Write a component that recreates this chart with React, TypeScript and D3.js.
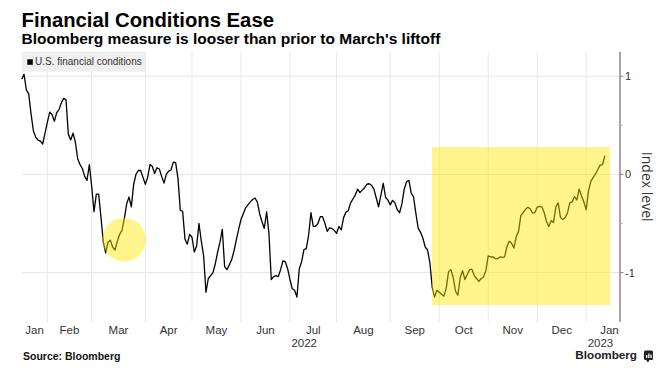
import React from "react";
import * as d3 from "d3";

// ---------- data ----------
const TITLE = "Financial Conditions Ease";
const SUBTITLE = "Bloomberg measure is looser than prior to March's liftoff";
const SERIES_NAME = "U.S. financial conditions";
const SOURCE = "Source: Bloomberg";
const Y_LABEL = "Index level";
const LOGO = "Bloomberg";

// first trading day in the series, and US market holidays (trading-day axis)
const START_DATE = "2022-01-14";
const CALENDAR_END = "2023-02-01";
const HOLIDAYS = [
  "2022-01-17", "2022-02-21", "2022-04-15", "2022-05-30", "2022-06-20",
  "2022-07-04", "2022-09-05", "2022-11-24", "2022-12-26", "2023-01-02", "2023-01-16",
];

// Bloomberg U.S. financial conditions index, one value per trading day
const VALUES = [
  0.97, 1.02, 0.86, 0.82, 0.62, 0.445, 0.38, 0.35, 0.34, 0.31,
  0.42, 0.53, 0.634, 0.61, 0.54, 0.63, 0.66, 0.73, 0.775, 0.76,
  0.41, 0.35, 0.42, 0.33, 0.16, 0.10, 0.06, -0.02, -0.06, 0.10,
  -0.12, -0.38, -0.20, -0.20, -0.44, -0.69, -0.80, -0.69, -0.67, -0.74,
  -0.77, -0.68, -0.61, -0.57, -0.45, -0.30, -0.23, -0.33, -0.10, 0.00,
  0.04, 0.04, -0.03, -0.10, -0.03, 0.10, 0.08, 0.01, 0.068, 0.055,
  -0.02, -0.088, 0.00, 0.034, 0.045, 0.125, 0.12, -0.04, -0.366, -0.375,
  -0.66, -0.71, -0.61, -0.64, -0.79, -0.73, -0.50, -0.68, -0.83, -1.20,
  -1.06, -1.03, -1.00, -0.91, -0.79, -0.69, -0.56, -0.94, -0.97, -0.92,
  -0.87, -0.78, -0.67, -0.56, -0.46, -0.40, -0.34, -0.31, -0.28, -0.255,
  -0.24, -0.28, -0.40, -0.48, -0.55, -0.38, -0.60, -1.07, -1.04, -1.03,
  -1.04, -0.97, -0.88, -0.89, -0.96, -1.07, -1.165, -1.18, -1.25, -0.96,
  -0.89, -0.766, -0.755, -0.62, -0.39, -0.53, -0.53, -0.50, -0.43, -0.43,
  -0.50, -0.58, -0.545, -0.55, -0.57, -0.60, -0.53, -0.565, -0.44, -0.385,
  -0.37, -0.29, -0.25, -0.21, -0.15, -0.185, -0.16, -0.135, -0.10, -0.095,
  -0.11, -0.15, -0.24, -0.33, -0.21, -0.09, -0.235, -0.26, -0.31, -0.264,
  -0.29, -0.36, -0.39, -0.30, -0.15, -0.075, -0.06, -0.19, -0.23, -0.40,
  -0.55, -0.59, -0.65, -0.74, -0.77, -0.90, -1.15, -1.25, -1.18, -1.20,
  -1.22, -1.24, -1.16, -0.99, -0.97, -1.05, -1.19, -1.23, -1.05, -0.98,
  -1.07, -1.02, -0.97, -0.965, -1.03, -1.06, -1.09, -1.06, -1.044, -0.98,
  -0.83, -0.84, -0.84, -0.855, -0.86, -0.84, -0.845, -0.84, -0.74, -0.68,
  -0.70, -0.75, -0.635, -0.58, -0.417, -0.39, -0.355, -0.335, -0.349, -0.393,
  -0.39, -0.332, -0.325, -0.33, -0.39, -0.48, -0.53, -0.47, -0.49, -0.33,
  -0.29, -0.44, -0.46, -0.44, -0.39, -0.29, -0.28, -0.225, -0.26, -0.15,
  -0.22, -0.28, -0.36, -0.17, -0.07, -0.03, 0.005, 0.05, 0.095, 0.10, 0.19,
];

const MONTH_LABELS = ["Jan", "Feb", "Mar", "Apr", "May", "Jun", "Jul", "Aug", "Sep", "Oct", "Nov", "Dec"];
const YEAR_LABELS: Record<string, string> = { "2022-06": "2022", "2023-00": "2023" };
const Y_MAJOR = [-1, 0, 1];
const Y_MINOR = [-0.5, 0.5];
const Y_DOMAIN = [-1.5, 1.25];
const X_PAD_END = 6.5; // trading days of empty space after the last point

// highlight annotations (trading-day position, index value)
const HIGHLIGHT_BOX = { x0: 175.9, x1: 252.3, y0: -1.33, y1: 0.28 };
const HIGHLIGHT_CIRCLE = { x: 43.9, y: -0.665, r: 0.222 };

// ---------- helpers ----------
function tradingDays(): Date[] {
  const hol = new Set(HOLIDAYS);
  const out: Date[] = [];
  const d = new Date(START_DATE + "T00:00:00Z");
  const end = new Date(CALENDAR_END + "T00:00:00Z");
  while (d <= end) {
    const wd = d.getUTCDay();
    const iso = d.toISOString().slice(0, 10);
    if (wd !== 0 && wd !== 6 && !hol.has(iso)) out.push(new Date(d));
    d.setUTCDate(d.getUTCDate() + 1);
  }
  return out;
}

const FONT = "'Liberation Sans', Arial, sans-serif";

export default function App() {
  const W = 666;
  const H = 373;
  const left = 21.7;
  const right = 620;
  const top = 51.7;
  const bottom = 321.7;

  const days = tradingDays();
  const data = VALUES.map((v, i) => ({ i, date: days[i], v }));
  const lastIdx = VALUES.length - 1;

  const x = d3.scaleLinear().domain([0, lastIdx + X_PAD_END]).range([left, right]);
  const y = d3.scaleLinear().domain(Y_DOMAIN).range([bottom, top]);

  // month starts (index of first trading day of each month)
  const months: { idx: number; key: string; label: string; month: number }[] = [];
  days.forEach((d, i) => {
    const key = `${d.getUTCFullYear()}-${String(d.getUTCMonth()).padStart(2, "0")}`;
    if (i === 0 || d.getUTCMonth() !== days[i - 1].getUTCMonth()) {
      months.push({ idx: i, key, label: MONTH_LABELS[d.getUTCMonth()], month: d.getUTCMonth() });
    }
  });
  const visibleMonths = months.filter((m) => m.idx <= lastIdx);
  const monthLabels = visibleMonths.map((m, k) => {
    const next = months[months.indexOf(m) + 1];
    const endIdx = next ? next.idx : days.length;
    return { ...m, center: (m.idx + endIdx) / 2 };
  });

  const line = d3
    .line<{ i: number; v: number }>()
    .x((d) => x(d.i))
    .y((d) => y(d.v));

  const yellow = "#ffe800";

  return (
    <svg
      width={W}
      height={H}
      style={{ position: "fixed", left: 0, top: 0, background: "#fff" }}
      fontFamily={FONT}
    >
      <rect width={W} height={H} fill="#fff" />
      <text x={21.5} y={27.3} fontSize={20.3} fontWeight="bold" fill="#000">
        {TITLE}
      </text>
      <text x={21.5} y={44.3} fontSize={15.5} fontWeight="bold" fill="#000">
        {SUBTITLE}
      </text>

      {/* gridlines */}
      {months
        .filter((m) => m.idx > 0 && m.idx <= lastIdx)
        .map((m) => (
          <line key={"vg" + m.key} x1={x(m.idx)} x2={x(m.idx)} y1={top} y2={bottom} stroke="#e9e9e9" strokeWidth={1} />
        ))}
      {Y_MAJOR.map((t) => (
        <line key={"hg" + t} x1={left} x2={right} y1={y(t)} y2={y(t)} stroke="#e6e6e6" strokeWidth={1} />
      ))}

      {/* legend */}
      <rect x={left} y={top} width={123.3} height={20} fill="#efefef" />
      <rect x={27.3} y={59.3} width={5.5} height={5.5} fill="#000" />
      <text x={35} y={65.3} fontSize={10} fill="#333">
        {SERIES_NAME}
      </text>

      {/* series */}
      <path d={line(data) || ""} fill="none" stroke="#000" strokeWidth={1.3} strokeLinejoin="round" />

      {/* highlights */}
      <rect
        x={x(HIGHLIGHT_BOX.x0)}
        y={y(HIGHLIGHT_BOX.y1)}
        width={x(HIGHLIGHT_BOX.x1) - x(HIGHLIGHT_BOX.x0)}
        height={y(HIGHLIGHT_BOX.y0) - y(HIGHLIGHT_BOX.y1)}
        fill={yellow}
        fillOpacity={0.45}
      />
      <circle
        cx={x(HIGHLIGHT_CIRCLE.x)}
        cy={y(HIGHLIGHT_CIRCLE.y)}
        r={y(0) - y(HIGHLIGHT_CIRCLE.r)}
        fill={yellow}
        fillOpacity={0.45}
      />

      {/* right axis */}
      <line x1={right} x2={right} y1={top} y2={bottom} stroke="#888" strokeWidth={1.5} />
      {Y_MAJOR.map((t) => (
        <g key={"yt" + t}>
          <line x1={right} x2={right + 3.5} y1={y(t)} y2={y(t)} stroke="#888" strokeWidth={1} />
          <text x={right + 5} y={y(t) + 4} fontSize={11} fill="#333">
            {t < 0 ? "-" + Math.abs(t) : String(t)}
          </text>
        </g>
      ))}
      {Y_MINOR.map((t) => (
        <line key={"ym" + t} x1={right} x2={right + 2.5} y1={y(t)} y2={y(t)} stroke="#aaa" strokeWidth={1} />
      ))}
      <text
        transform={`translate(${642},${y(-0.125)}) rotate(90)`}
        textAnchor="middle"
        fontSize={14}
        fontFamily="'Open Sans', sans-serif"
        fill="#333"
      >
        {Y_LABEL}
      </text>

      {/* x axis labels */}
      {monthLabels.map((m) => (
        <g key={"xl" + m.key}>
          <text x={x(m.center)} y={333.5} fontSize={11.5} textAnchor="middle" fill="#333">
            {m.label}
          </text>
          {YEAR_LABELS[m.key] && (
            <text x={x(m.idx) + 1.5} y={346.7} fontSize={11.5} fill="#333">
              {YEAR_LABELS[m.key]}
            </text>
          )}
        </g>
      ))}

      {/* footer */}
      <text x={23} y={360} fontSize={10.5} fontWeight="bold" fill="#111">
        {SOURCE}
      </text>
      <text x={637} y={359.4} fontSize={11.7} fontWeight="bold" textAnchor="end" fill="#222">
        {LOGO}
      </text>
      <rect x={644} y={350.5} width={9} height={9.5} rx={1.5} fill="#222" />
      <rect x={646} y={355} width={1.3} height={3} fill="#fff" />
      <rect x={648.2} y={353.5} width={1.3} height={4.5} fill="#fff" />
      <rect x={650.4} y={354.5} width={1.3} height={3.5} fill="#fff" />
      <path d="M646 360 L648 362.5 L649.5 360 Z" fill="#222" />
    </svg>
  );
}
